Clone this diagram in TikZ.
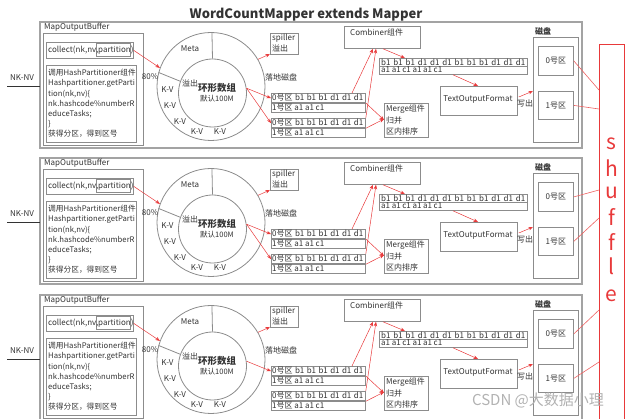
\documentclass[tikz,border=0pt]{standalone}
\usepackage{fontspec}
\setmainfont{Noto Sans CJK SC}
\usetikzlibrary{arrows.meta,calc}
\definecolor{ink}{HTML}{333333}
\definecolor{frame}{HTML}{8C8C8C}
\definecolor{redc}{HTML}{E8393A}
\begin{document}
\begin{tikzpicture}[x=1pt,y=-1pt,
  every node/.style={text=ink},
  gbox/.style={draw=frame, line width=0.8pt, inner sep=0pt},
  pbox/.style={draw=frame!80, line width=1.5pt},
  rarr/.style={draw=redc, line width=0.5pt, -{Stealth[length=4.5pt,width=3.5pt]}},
  rline/.style={draw=redc!80, line width=0.6pt},
  t8/.style={font=\fontsize{8}{9}\selectfont, inner sep=0pt},
  shl/.style={text=redc, font=\fontsize{21}{21}\selectfont, inner sep=0pt},
  rowbox/.style={gbox, anchor=north west, minimum width=94pt, minimum height=9.5pt},
]
\useasboundingbox (0,0) rectangle (640,419);
\node[font=\fontsize{13}{14}\bfseries\selectfont, inner sep=0pt] (title) at (306,15) {WordCountMapper extends Mapper};

\foreach \T/\n/\two in {22/a/1,158/b/1,295/c/0}{
\begin{scope}[shift={(0,\T)}]
  \draw[pbox] (40,0) rectangle (582,126);
  \node[t8, anchor=west] (mob\n) at (44,5.5) {MapOutputBuffer};
  \node[gbox, anchor=north west, minimum width=100pt, minimum height=112pt] (left\n) at (43,11) {};
  \node[gbox, anchor=north west, minimum width=87pt, minimum height=16pt] (col\n) at (46,20) {};
  \node[gbox, anchor=north west, minimum width=34pt, minimum height=13pt] (par\n) at (96,21.5) {};
  \node[t8, anchor=west] (colt\n) at (48,28) {collect(nk,nv,partition)};
  \node[gbox, anchor=north west, minimum width=90pt, minimum height=77pt] (desc\n) at (46,43) {};
  \node[anchor=north west, align=left, inner sep=0pt, font=\fontsize{7.7}{10.2}\selectfont] (desct\n) at (48,47) {调用HashPartitioner组件\\Hashpartitioner.getParti\\tion(nk,nv)\{\\nk.hashcode\%numberR\\educeTasks;\\\}\\获得分区，得到区号};
  \node[t8] (nknv\n) at (22,56) {NK-NV};
  \coordinate (in\n) at (7,64);
  \coordinate (pl\n) at (40,64);
  \draw[ink, line width=0.6pt] (in\n) -- (pl\n);
  % ring
  \node[draw=frame, line width=0.8pt, circle, minimum size=108pt, inner sep=0pt] (ring\n) at (211,64.5) {};
  \node[draw=frame, line width=0.8pt, circle, minimum size=68pt, inner sep=0pt] (core\n) at (212.5,71) {};
  \draw[frame, line width=0.8pt] (ring\n.89) -- (core\n.90);
  \draw[frame, line width=0.8pt] (ring\n.165) -- (core\n.160);
  \node[t8] (meta\n) at (190,27) {Meta};
  \node[t8] (pc\n) at (150,55) {80\%};
  \node[t8] (yc\n) at (190,61) {溢出};
  \node[inner sep=0pt, font=\fontsize{9.5}{10}\bfseries\selectfont] (hx\n) at (217,66) {环形数组};
  \node[inner sep=0pt, font=\fontsize{7.5}{9}\selectfont] (mr\n) at (217,77) {默认100M};
  \node[t8] (kv1\n) at (167.5,68) {K-V};
  \node[t8] (kv2\n) at (170,84) {K-V};
  \node[t8] (kv3\n) at (180,100) {K-V};
  \node[t8] (kv4\n) at (197,110) {K-V};
  \node[t8] (kv5\n) at (220,110) {K-V};
  \draw[rarr] (col\n.east) -- (ring\n.160);
  % spiller
  \node[gbox, anchor=north west, minimum width=28pt, minimum height=21pt] (spill\n) at (270,11) {};
  \node[t8, anchor=west] (spt\n) at (272,16.5) {spiller};
  \node[t8, anchor=west] (spy\n) at (272,26.5) {溢出};
  \draw[rarr] (ring\n.30) -- (spill\n.215);
  \node[t8] (ld\n) at (281,55) {落地磁盘};
  % partition rows
  \node[rowbox] (ra0\n) at (271,71) {};
  \node[t8, anchor=west] (ta0\n) at (272,75.7) {\makebox[91pt][s]{0号区 b1 b1 b1 d1 d1 d1}};
  \node[rowbox] (ra1\n) at (271,81) {};
  \node[t8, anchor=west] (ta1\n) at (272,85.7) {\makebox[52pt][s]{1号区 a1 a1 c1}};
  \node[rowbox] (rb0\n) at (271,96) {};
  \node[t8, anchor=west] (tb0\n) at (272,100.7) {\makebox[91pt][s]{0号区 b1 b1 b1 d1 d1 d1}};
  \node[rowbox] (rb1\n) at (271,106) {};
  \node[t8, anchor=west] (tb1\n) at (272,110.7) {\makebox[52pt][s]{1号区 a1 a1 c1}};
  \draw[rarr] (core\n.8) -- (ra0\n.west);
  \ifnum\two=1 \draw[rarr] (core\n.8) -- (rb0\n.west); \fi
  % combiner
  \node[gbox, anchor=north west, minimum width=76pt, minimum height=22pt] (comb\n) at (344,4) {};
  \node[t8, anchor=west] (combt\n) at (350,10) {Combiner组件};
  \draw[rarr] ($(ra0\n.north west)+(81,0)$) -- ($(comb\n.south west)+(29,0)$);
  \draw[rarr] (rb0\n.north east) -- ($(comb\n.south west)+(32,0)$);
  % combined rows
  \node[gbox, anchor=north west, minimum width=148pt, minimum height=8pt] (cr1\n) at (379,36) {};
  \node[t8, anchor=west] (crt1\n) at (381,40) {\makebox[144pt][s]{b1 b1 b1 d1 d1 d1 b1 b1 b1 d1 d1 d1}};
  \node[gbox, anchor=north west, minimum width=148pt, minimum height=8pt] (cr2\n) at (379,44) {};
  \node[t8, anchor=west] (crt2\n) at (381,48) {\makebox[61pt][s]{a1 a1 c1 a1 a1 c1}};
  \draw[rarr] ($(comb\n.south west)+(39,0)$) -- ($(cr1\n.north west)+(26,0)$);
  % merge
  \node[gbox, anchor=north west, minimum width=44pt, minimum height=34pt] (mrg\n) at (384,81) {};
  \node[t8, anchor=west] (mt1\n) at (386,87) {Merge组件};
  \node[t8, anchor=west] (mt2\n) at (386,98) {归并};
  \node[t8, anchor=west] (mt3\n) at (386,109) {区内排序};
  \draw[rarr] (ra1\n.north east) -- ($(mrg\n.north west)+(0,17)$);
  \draw[rarr] (rb0\n.south east) -- ($(mrg\n.north west)+(0,16)$);
  % text output format
  \node[gbox, anchor=north west, minimum width=77pt, minimum height=29pt] (tof\n) at (440,64) {};
  \node[t8] (toft\n) at (478,77) {TextOutputFormat};
  \draw[rarr] ($(cr2\n.south west)+(74,0)$) -- ($(tof\n.north west)+(38,0)$);
  \node[t8] (wc\n) at (525,81) {写出};
  % disk
  \node[gbox, anchor=north west, minimum width=45pt, minimum height=105pt] (dk\n) at (533,15) {};
  \node[inner sep=0pt, font=\fontsize{8}{9}\bfseries\selectfont] (dkt\n) at (543,9) {磁盘};
  \node[gbox, anchor=north west, minimum width=35pt, minimum height=29pt, font=\fontsize{8}{9}\selectfont] (p0\n) at (538,24) {0号区};
  \node[gbox, anchor=north west, minimum width=35pt, minimum height=28pt, font=\fontsize{8}{9}\selectfont] (p1\n) at (538,69) {1号区};
  \draw[rarr] ($(tof\n.north east)+(1,11)$) -- ($(dk\n.north west)+(0,54)$);
\end{scope}}

% shuffle
\node[draw=redc, line width=0.8pt, anchor=north west, minimum width=25pt, minimum height=390pt, inner sep=0pt] (shuf) at (599,44) {};
\node[shl] (sh1) at (611.5,143.5) {s};
\node[shl] (sh2) at (611.5,167.7) {h};
\node[shl] (sh3) at (611.5,193.3) {u};
\node[shl] (sh4) at (611.5,217.3) {f};
\node[shl] (sh5) at (611.5,242) {f};
\node[shl] (sh6) at (611.5,266.7) {l};
\node[shl] (sh7) at (611.5,295.3) {e};
\draw[rline] (p0a.east) -- ($(shuf.north west)+(0,46)$);
\draw[rline] (p1a.east) -- ($(shuf.north west)+(0,65)$);
\draw[rline] (p0b.east) -- ($(shuf.north west)+(0,146)$);
\draw[rline] (p1b.east) -- ($(shuf.north west)+(0,174)$);
\draw[rline] (p0c.east) -- ($(shuf.north west)+(0,266)$);
\draw[rline] (p1c.east) -- ($(shuf.north west)+(0,318)$);

\node[text=black!30, font=\fontsize{15}{15}\selectfont, inner sep=0pt] (wm) at (538,400) {CSDN @大数据小理};
\end{tikzpicture}
\end{document}
